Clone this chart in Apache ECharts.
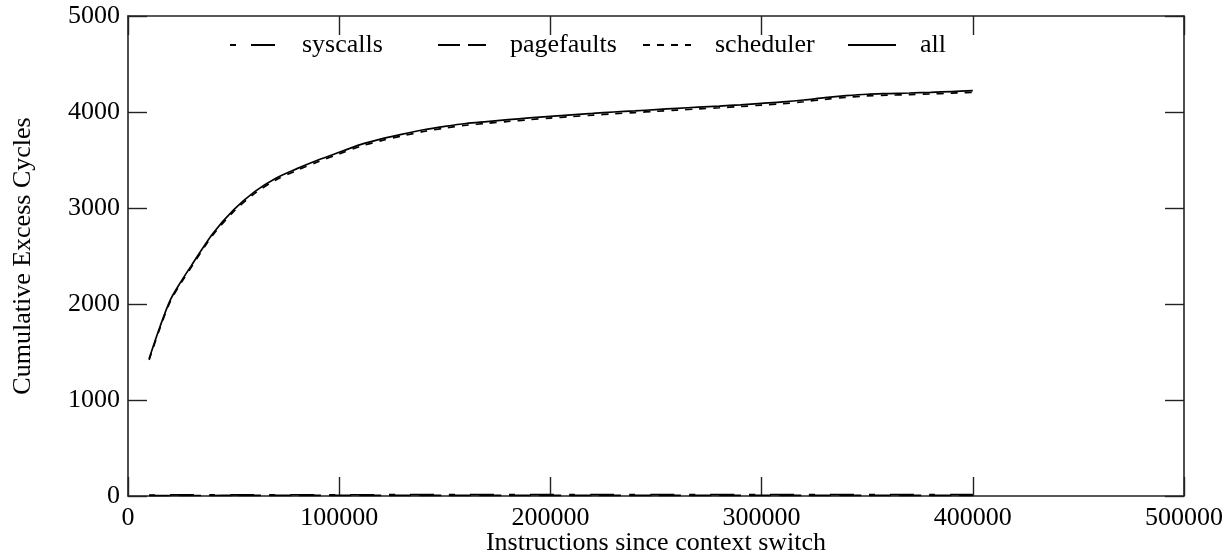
<!DOCTYPE html>
<html>
<head>
    <meta charset="utf-8">
    <script src="https://cdn.jsdelivr.net/npm/echarts@6/dist/echarts.min.js"></script>
</head>
<body style="margin:0">
<div id="chart" style="width:1230px;height:556px"></div>
<script>
    // instructions since context switch
    var instructions = [10000, 15000, 20000, 25000, 30000, 40000, 50000, 60000, 70000, 80000, 90000, 100000,
        110000, 120000, 130000, 140000, 150000, 160000, 170000, 180000, 190000, 200000,
        210000, 220000, 230000, 240000, 250000, 260000, 270000, 280000, 290000, 300000,
        310000, 320000, 330000, 340000, 350000, 360000, 370000, 380000, 390000, 400000];

    var syscalls = [10, 10, 11, 11, 11, 12, 12, 12, 13, 13, 13, 13,
        13, 13, 14, 14, 14, 14, 14, 14, 14, 14,
        14, 14, 14, 15, 15, 15, 15, 15, 15, 15,
        15, 15, 15, 15, 15, 15, 15, 15, 15, 15];

    var pagefaults = [4, 4, 5, 5, 5, 5, 6, 6, 6, 6, 6, 6,
        6, 6, 6, 7, 7, 7, 7, 7, 7, 7,
        7, 7, 7, 7, 7, 7, 7, 7, 7, 7,
        7, 7, 7, 7, 7, 7, 7, 7, 7, 7];

    var scheduler = [1418, 1740, 2025, 2215, 2385, 2713, 2962, 3152, 3292, 3392, 3482, 3563,
        3642, 3702, 3752, 3797, 3832, 3862, 3882, 3902, 3920, 3937,
        3952, 3967, 3982, 3994, 4007, 4020, 4032, 4044, 4057, 4072,
        4087, 4107, 4132, 4152, 4167, 4175, 4181, 4188, 4196, 4205];

    var all = [1430, 1755, 2040, 2230, 2400, 2730, 2980, 3170, 3310, 3410, 3500, 3580,
        3660, 3720, 3770, 3815, 3850, 3880, 3900, 3920, 3938, 3955,
        3970, 3985, 4000, 4012, 4025, 4038, 4050, 4062, 4075, 4090,
        4105, 4125, 4150, 4170, 4185, 4192, 4198, 4205, 4213, 4222];

    var seriesNames = ['syscalls', 'pagefaults', 'scheduler', 'all'];
    var xTicks = [0, 100000, 200000, 300000, 400000, 500000];
    var yTicks = [0, 1000, 2000, 3000, 4000, 5000];

    var pairs = function (xs, ys) {
        var res = [];
        for (var i = 0; i < xs.length; i++) {
            res.push([xs[i], ys[i]]);
        }
        return res;
    };

    var font = 'Liberation Serif';
    var axisColor = '#222';

    var myChart = echarts.init(document.getElementById('chart'));

    var lineSeries = function (name, data, dash) {
        return {
            name: name,
            type: 'line',
            data: pairs(instructions, data),
            symbol: 'none',
            smooth: 0.3,
            lineStyle: { color: '#000', width: 1.7, type: dash },
            itemStyle: { color: '#000' },
            silent: true
        };
    };

    // axis with ticks drawn inward, used on all four sides
    var frameAxis = function (extra) {
        var ax = {
            type: 'value',
            axisLine: { show: true, onZero: false, lineStyle: { color: axisColor, width: 1.6 } },
            axisTick: { show: true, inside: true, length: 19, lineStyle: { color: axisColor, width: 1.4 } },
            axisLabel: { show: false },
            splitLine: { show: false }
        };
        for (var k in extra) {
            ax[k] = extra[k];
        }
        return ax;
    };

    // one legend per entry so each sits in its own fixed-width column
    var legendLefts = [224, 432, 637, 842];
    var legends = [];
    for (var i = 0; i < seriesNames.length; i++) {
        legends.push({
            left: legendLefts[i],
            top: 27,
            itemWidth: 48,
            itemHeight: 14,
            itemStyle: { opacity: 0 },
            selectedMode: false,
            textStyle: { fontFamily: font, fontSize: 26, color: '#000', padding: [0, 0, 0, 19] },
            data: [seriesNames[i]]
        });
    }

    var option = {
        animation: false,
        backgroundColor: '#fff',
        textStyle: { fontFamily: font },
        grid: { left: 128, right: 46, top: 16, bottom: 60, outerBoundsMode: 'none' },
        legend: legends,
        xAxis: [
            frameAxis({
                position: 'bottom',
                min: xTicks[0],
                max: xTicks[xTicks.length - 1],
                interval: 100000,
                name: 'Instructions since context switch',
                nameLocation: 'middle',
                nameGap: 34,
                nameMoveOverlap: false,
                nameTextStyle: { fontFamily: font, fontSize: 26, color: '#000' },
                axisLabel: { show: true, fontFamily: font, fontSize: 26, color: '#000', margin: 9,
                    formatter: function (v) { return String(v); } }
            }),
            frameAxis({
                position: 'top',
                min: xTicks[0],
                max: xTicks[xTicks.length - 1],
                interval: 100000
            })
        ],
        yAxis: [
            frameAxis({
                position: 'left',
                min: yTicks[0],
                max: yTicks[yTicks.length - 1],
                interval: 1000,
                name: 'Cumulative Excess Cycles',
                nameLocation: 'middle',
                nameGap: 92,
                nameMoveOverlap: false,
                nameTextStyle: { fontFamily: font, fontSize: 26, color: '#000' },
                axisLabel: { show: true, fontFamily: font, fontSize: 26, color: '#000', margin: 8,
                    formatter: function (v) { return String(v); } }
            }),
            frameAxis({
                position: 'right',
                min: yTicks[0],
                max: yTicks[yTicks.length - 1],
                interval: 1000
            })
        ],
        series: [
            lineSeries(seriesNames[0], syscalls, [6, 15, 24, 15]),
            lineSeries(seriesNames[1], pagefaults, [22, 8]),
            lineSeries(seriesNames[2], scheduler, [7, 7]),
            lineSeries(seriesNames[3], all, 'solid')
        ]
    };
    myChart.setOption(option);
</script>
</body>
</html>
